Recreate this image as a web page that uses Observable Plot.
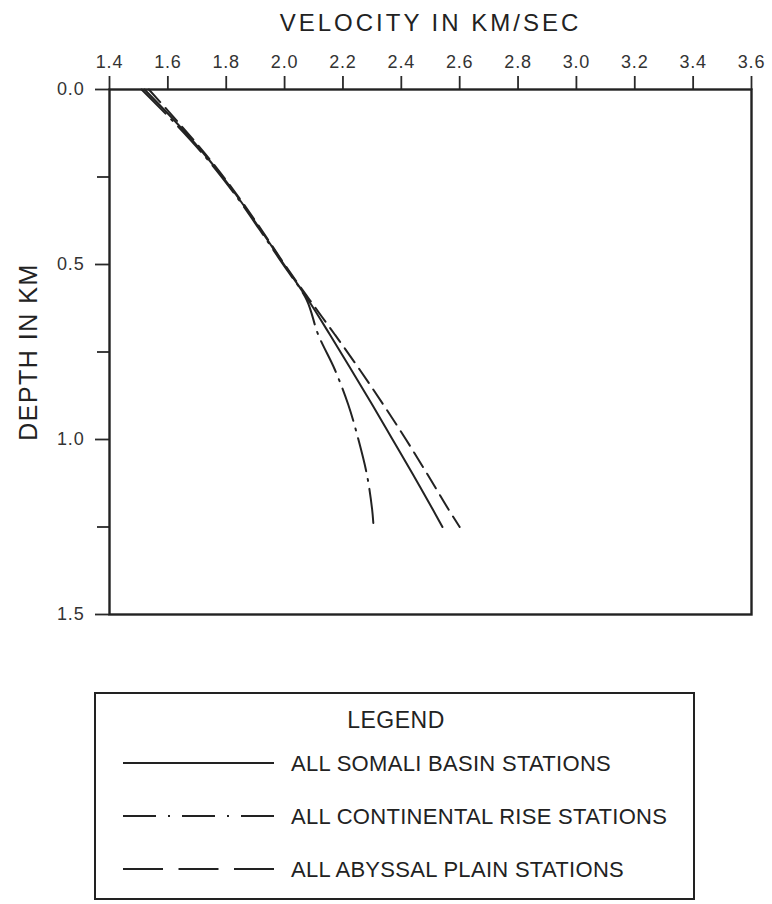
<!DOCTYPE html>
<html><head><meta charset="utf-8">
<script src="https://cdn.jsdelivr.net/npm/d3@7"></script>
<script src="https://cdn.jsdelivr.net/npm/@observablehq/plot@0.6"></script>
<style>
body{margin:0;background:#fff;width:772px;height:904px;position:relative;overflow:hidden;font-family:"Liberation Sans",Arial,sans-serif;}
#chart{position:absolute;left:0;top:0;}
#legend{position:absolute;left:0;top:640px;}
</style></head><body>
<div id="chart"></div><div id="legend"></div>
<script>
// depth (km) at which velocities are read
const depth = [0, 0.1, 0.2, 0.3, 0.4, 0.5, 0.6, 0.7, 0.8, 0.9, 1.0, 1.1, 1.2, 1.25];
// velocity (km/sec) for each series
const somaliBasin     = [1.52, 1.635, 1.74, 1.833, 1.917, 1.998, 2.08, 2.155, 2.228, 2.30, 2.37, 2.44, 2.508, 2.541];
const continentalRise = [1.51, 1.628, 1.736, 1.83, 1.914, 1.995, 2.075, 2.115, 2.172, 2.218, 2.253, 2.282, 2.30, 2.305];
const abyssalPlain    = [1.535, 1.642, 1.744, 1.836, 1.92, 2.0, 2.085, 2.172, 2.257, 2.338, 2.416, 2.49, 2.562, 2.60];
const seriesNames = ["ALL SOMALI BASIN STATIONS", "ALL CONTINENTAL RISE STATIONS", "ALL ABYSSAL PLAIN STATIONS"];
const xTicks = [1.4, 1.6, 1.8, 2.0, 2.2, 2.4, 2.6, 2.8, 3.0, 3.2, 3.4, 3.6];
const yTicks = [0, 0.5, 1.0, 1.5];
const yMinorTicks = [0.25, 0.75, 1.25];
const xTitle = "VELOCITY IN KM/SEC";
const yTitle = "DEPTH IN KM";
const legendTitle = "LEGEND";

const plotDashes = [null, "34,8,2,8", "17,8"];
const legendDashes = [null, "33,12,2,12", "40,15.5"];
const ink = "#222";
const rows = vals => depth.map((d, i) => ({depth: d, v: vals[i]}));
const seriesVals = [somaliBasin, continentalRise, abyssalPlain];

const chart = Plot.plot({
  width: 772, height: 640,
  marginTop: 89, marginLeft: 109, marginRight: 21, marginBottom: 26,
  style: {fontFamily: "'Liberation Sans', Arial, sans-serif", color: "#2a2a2a", background: "#fff"},
  x: {domain: [1.4, 3.6]},
  y: {domain: [0, 1.5], reverse: true},
  marks: [
    Plot.axisX(xTicks, {anchor: "top", tickSize: 14, tickPadding: 8, tickFormat: d3.format(".1f"), fontSize: 18, label: null, strokeWidth: 1.8}),
    Plot.axisY(yTicks, {anchor: "left", tickSize: 14, tickPadding: 11, tickFormat: d3.format(".1f"), fontSize: 18, label: null, strokeWidth: 1.8}),
    Plot.axisY(yMinorTicks, {anchor: "left", tickSize: 12, tickFormat: () => "", label: null, strokeWidth: 1.8}),
    ...seriesVals.map((vals, i) => Plot.line(rows(vals), {x: "v", y: "depth", curve: "catmull-rom", stroke: ink, strokeWidth: 2, strokeDasharray: plotDashes[i] ?? undefined})),
    Plot.frame({stroke: ink, strokeWidth: 2.4}),
    Plot.text([xTitle], {frameAnchor: "top", dy: -66, lineAnchor: "middle", textAnchor: "middle", fontSize: 24, fill: ink}),
    Plot.text([yTitle], {frameAnchor: "left", dx: -81, rotate: -90, lineAnchor: "middle", textAnchor: "middle", fontSize: 25, fill: ink})
  ]
});
document.getElementById("chart").appendChild(chart);
const sel = d3.select(chart).selectAll("text");
sel.filter(function(){ return this.textContent === xTitle; }).attr("letter-spacing", 3);
sel.filter(function(){ return this.textContent === yTitle; }).attr("letter-spacing", 1.5);
sel.filter(function(){ return /^\d\.\d$/.test(this.textContent); }).attr("letter-spacing", 0.8).attr("fill", "#333");

// legend
const lg = d3.select("#legend").append("svg").attr("width", 772).attr("height", 264)
  .style("font-family", "'Liberation Sans', Arial, sans-serif");
lg.append("rect").attr("x", 95).attr("y", 53).attr("width", 599).attr("height", 206)
  .attr("fill", "none").attr("stroke", ink).attr("stroke-width", 2);
lg.append("text").attr("x", 396).attr("y", 80).attr("text-anchor", "middle").attr("dominant-baseline", "central")
  .attr("font-size", 23).attr("letter-spacing", 0.5).attr("fill", ink).text(legendTitle);
seriesNames.forEach((name, i) => {
  const y = 123 + i * 53;
  lg.append("line").attr("x1", 123).attr("x2", 274).attr("y1", y).attr("y2", y)
    .attr("stroke", ink).attr("stroke-width", 2).attr("stroke-dasharray", legendDashes[i]);
  lg.append("text").attr("x", 291).attr("y", y).attr("dominant-baseline", "central")
    .attr("font-size", 22).attr("letter-spacing", 0.3).attr("fill", ink).text(name);
});
</script>
</body></html>
